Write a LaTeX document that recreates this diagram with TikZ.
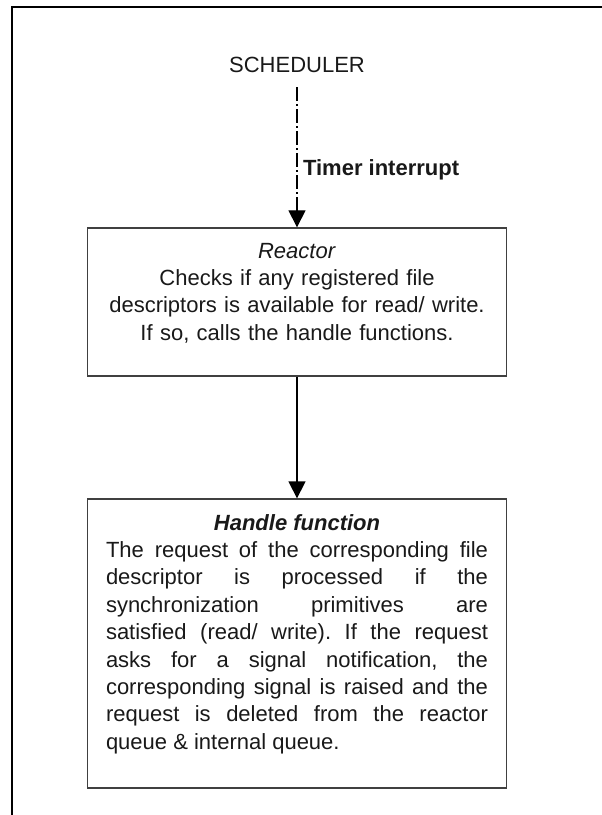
\documentclass[tikz,border=0pt]{standalone}
\usepackage{fontspec}
\setmainfont{Liberation Sans}
\usepackage{tikz}
\usetikzlibrary{arrows.meta,positioning}
\frenchspacing

\begin{document}
\begin{tikzpicture}[x=1pt,y=-1pt,->,>={Triangle[length=17pt,width=17pt]},line width=1.3pt,
  font=\fontsize{22}{27.4}\selectfont]
\tikzstyle{every node}=[text=black!90]
\tikzstyle{blockbox}=[draw=black!75,inner ysep=0pt,line width=1.3pt]
\useasboundingbox (0,0) rectangle (602,815);
\draw[-,line width=2pt] (602,7) -- (12,7) -- (12,815);
\node[inner sep=14pt] (sched) at (297,65) {SCHEDULER};
\node[blockbox,below of=sched,node distance=237pt,text width=419pt,inner xsep=0pt,
  align=center,text height=30pt,text depth=118pt] (reactor)
  {\textit{Reactor}\\Checks if any registered file\\descriptors is available for read/ write.\\If so, calls the handle functions.};
\node[blockbox,below of=reactor,node distance=341.5pt,text width=382pt,inner xsep=18.5pt,
  align=justify,text height=31pt,text depth=258pt] (handle)
  {\makebox[\linewidth]{\bfseries\itshape Handle function}\\
   \makebox[\linewidth][s]{The request of the corresponding file}\\
   \makebox[\linewidth][s]{descriptor is processed if the}\\
   \makebox[\linewidth][s]{synchronization primitives are}\\
   \makebox[\linewidth][s]{satisfied (read/ write). If the request}\\
   \makebox[\linewidth][s]{asks for a signal notification, the}\\
   \makebox[\linewidth][s]{corresponding signal is raised and the}\\
   \makebox[\linewidth][s]{request is deleted from the reactor}\\
   \makebox[\linewidth][l]{queue \& internal queue.}};
\path (sched) edge[dash pattern=on 14pt off 3pt on 2pt off 3pt,line width=1.1pt]
        node[right,pos=0.59,inner sep=5.5pt,font=\fontsize{22}{27.4}\selectfont\bfseries]{Timer interrupt} (reactor)
      (reactor) edge (handle);
\end{tikzpicture}
\end{document}
